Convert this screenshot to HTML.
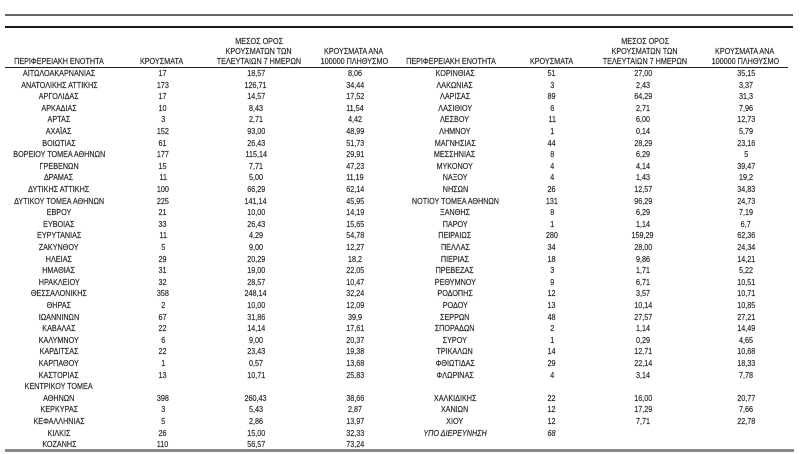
<!DOCTYPE html>
<html><head><meta charset="utf-8">
<style>
html,body{margin:0;padding:0;background:#fff;}
#w{position:relative;width:800px;height:454px;overflow:hidden;background:#fff;font-family:"Liberation Sans","Noto Sans CJK SC",sans-serif;font-size:8.2px;color:#1e1e1e;-webkit-text-stroke:0.2px #3a3a3a;}
.ln{position:absolute;}
.r{position:absolute;left:0;width:800px;height:12px;line-height:12px;white-space:nowrap;}
.r span{position:absolute;top:0;width:130px;text-align:center;}
.r span i{display:inline-block;font-style:normal;transform:scaleX(0.88);transform-origin:50% 50%;}
.r span.it i{font-style:italic;}
.a{left:-6px}.b{left:98px}.c{left:191px}.d{left:290px}
.e{left:390px}.f{left:487px}.g{left:578px}.h{left:681px}
.hc{left:194px}.hd{left:289px}.ha{left:-6px}.hb{left:97px}
.he{left:386px}.hf{left:487px}.hg{left:580px}.hh{left:680px}
</style></head><body><div id="w">
<div class="ln" style="left:5px;top:14px;width:788px;height:2px;background:#666;"></div>
<div class="ln" style="left:5px;top:26px;width:788px;height:2px;background:#1a1a1a;"></div>
<div class="ln" style="left:5px;top:67px;width:783px;height:1px;background:#222;"></div>
<div class="ln" style="left:5px;top:449px;width:789px;height:3px;background:#888;"></div>

<div class="r" style="top:36px"><span class="hc"><i>ΜΕΣΟΣ ΟΡΟΣ</i></span><span class="hg"><i>ΜΕΣΟΣ ΟΡΟΣ</i></span></div>
<div class="r" style="top:46px"><span class="hc"><i>ΚΡΟΥΣΜΑΤΩΝ ΤΩΝ</i></span><span class="hd"><i>ΚΡΟΥΣΜΑΤΑ ΑΝΑ</i></span><span class="hg"><i>ΚΡΟΥΣΜΑΤΩΝ ΤΩΝ</i></span><span class="hh"><i>ΚΡΟΥΣΜΑΤΑ ΑΝΑ</i></span></div>
<div class="r" style="top:56px"><span class="ha"><i>ΠΕΡΙΦΕΡΕΙΑΚΗ ΕΝΟΤΗΤΑ</i></span><span class="hb"><i>ΚΡΟΥΣΜΑΤΑ</i></span><span class="hc"><i>ΤΕΛΕΥΤΑΙΩΝ 7 ΗΜΕΡΩΝ</i></span><span class="hd"><i>100000 ΠΛΗΘΥΣΜΟ</i></span><span class="he"><i>ΠΕΡΙΦΕΡΕΙΑΚΗ ΕΝΟΤΗΤΑ</i></span><span class="hf"><i>ΚΡΟΥΣΜΑΤΑ</i></span><span class="hg"><i>ΤΕΛΕΥΤΑΙΩΝ 7 ΗΜΕΡΩΝ</i></span><span class="hh"><i>100000 ΠΛΗΘΥΣΜΟ</i></span></div>

<div class="r" style="top:68px"><span class="a"><i>ΑΙΤΩΛΟΑΚΑΡΝΑΝΙΑΣ</i></span><span class="b"><i>17</i></span><span class="c"><i>18,57</i></span><span class="d"><i>8,06</i></span><span class="e"><i>ΚΟΡΙΝΘΙΑΣ</i></span><span class="f"><i>51</i></span><span class="g"><i>27,00</i></span><span class="h"><i>35,15</i></span></div>
<div class="r" style="top:79.6px"><span class="a"><i>ΑΝΑΤΟΛΙΚΗΣ ΑΤΤΙΚΗΣ</i></span><span class="b"><i>173</i></span><span class="c"><i>126,71</i></span><span class="d"><i>34,44</i></span><span class="e"><i>ΛΑΚΩΝΙΑΣ</i></span><span class="f"><i>3</i></span><span class="g"><i>2,43</i></span><span class="h"><i>3,37</i></span></div>
<div class="r" style="top:91.2px"><span class="a"><i>ΑΡΓΟΛΙΔΑΣ</i></span><span class="b"><i>17</i></span><span class="c"><i>14,57</i></span><span class="d"><i>17,52</i></span><span class="e"><i>ΛΑΡΙΣΑΣ</i></span><span class="f"><i>89</i></span><span class="g"><i>64,29</i></span><span class="h"><i>31,3</i></span></div>
<div class="r" style="top:102.8px"><span class="a"><i>ΑΡΚΑΔΙΑΣ</i></span><span class="b"><i>10</i></span><span class="c"><i>8,43</i></span><span class="d"><i>11,54</i></span><span class="e"><i>ΛΑΣΙΘΙΟΥ</i></span><span class="f"><i>6</i></span><span class="g"><i>2,71</i></span><span class="h"><i>7,96</i></span></div>
<div class="r" style="top:114.4px"><span class="a"><i>ΑΡΤΑΣ</i></span><span class="b"><i>3</i></span><span class="c"><i>2,71</i></span><span class="d"><i>4,42</i></span><span class="e"><i>ΛΕΣΒΟΥ</i></span><span class="f"><i>11</i></span><span class="g"><i>6,00</i></span><span class="h"><i>12,73</i></span></div>
<div class="r" style="top:126px"><span class="a"><i>ΑΧΑΪΑΣ</i></span><span class="b"><i>152</i></span><span class="c"><i>93,00</i></span><span class="d"><i>48,99</i></span><span class="e"><i>ΛΗΜΝΟΥ</i></span><span class="f"><i>1</i></span><span class="g"><i>0,14</i></span><span class="h"><i>5,79</i></span></div>
<div class="r" style="top:137.6px"><span class="a"><i>ΒΟΙΩΤΙΑΣ</i></span><span class="b"><i>61</i></span><span class="c"><i>26,43</i></span><span class="d"><i>51,73</i></span><span class="e"><i>ΜΑΓΝΗΣΙΑΣ</i></span><span class="f"><i>44</i></span><span class="g"><i>28,29</i></span><span class="h"><i>23,16</i></span></div>
<div class="r" style="top:149.2px"><span class="a"><i>ΒΟΡΕΙΟΥ ΤΟΜΕΑ ΑΘΗΝΩΝ</i></span><span class="b"><i>177</i></span><span class="c"><i>115,14</i></span><span class="d"><i>29,91</i></span><span class="e"><i>ΜΕΣΣΗΝΙΑΣ</i></span><span class="f"><i>8</i></span><span class="g"><i>6,29</i></span><span class="h"><i>5</i></span></div>
<div class="r" style="top:160.8px"><span class="a"><i>ΓΡΕΒΕΝΩΝ</i></span><span class="b"><i>15</i></span><span class="c"><i>7,71</i></span><span class="d"><i>47,23</i></span><span class="e"><i>ΜΥΚΟΝΟΥ</i></span><span class="f"><i>4</i></span><span class="g"><i>4,14</i></span><span class="h"><i>39,47</i></span></div>
<div class="r" style="top:172.4px"><span class="a"><i>ΔΡΑΜΑΣ</i></span><span class="b"><i>11</i></span><span class="c"><i>5,00</i></span><span class="d"><i>11,19</i></span><span class="e"><i>ΝΑΞΟΥ</i></span><span class="f"><i>4</i></span><span class="g"><i>1,43</i></span><span class="h"><i>19,2</i></span></div>
<div class="r" style="top:184px"><span class="a"><i>ΔΥΤΙΚΗΣ ΑΤΤΙΚΗΣ</i></span><span class="b"><i>100</i></span><span class="c"><i>66,29</i></span><span class="d"><i>62,14</i></span><span class="e"><i>ΝΗΣΩΝ</i></span><span class="f"><i>26</i></span><span class="g"><i>12,57</i></span><span class="h"><i>34,83</i></span></div>
<div class="r" style="top:195.6px"><span class="a"><i>ΔΥΤΙΚΟΥ ΤΟΜΕΑ ΑΘΗΝΩΝ</i></span><span class="b"><i>225</i></span><span class="c"><i>141,14</i></span><span class="d"><i>45,95</i></span><span class="e"><i>ΝΟΤΙΟΥ ΤΟΜΕΑ ΑΘΗΝΩΝ</i></span><span class="f"><i>131</i></span><span class="g"><i>96,29</i></span><span class="h"><i>24,73</i></span></div>
<div class="r" style="top:207.2px"><span class="a"><i>ΕΒΡΟΥ</i></span><span class="b"><i>21</i></span><span class="c"><i>10,00</i></span><span class="d"><i>14,19</i></span><span class="e"><i>ΞΑΝΘΗΣ</i></span><span class="f"><i>8</i></span><span class="g"><i>6,29</i></span><span class="h"><i>7,19</i></span></div>
<div class="r" style="top:218.8px"><span class="a"><i>ΕΥΒΟΙΑΣ</i></span><span class="b"><i>33</i></span><span class="c"><i>26,43</i></span><span class="d"><i>15,65</i></span><span class="e"><i>ΠΑΡΟΥ</i></span><span class="f"><i>1</i></span><span class="g"><i>1,14</i></span><span class="h"><i>6,7</i></span></div>
<div class="r" style="top:230.4px"><span class="a"><i>ΕΥΡΥΤΑΝΙΑΣ</i></span><span class="b"><i>11</i></span><span class="c"><i>4,29</i></span><span class="d"><i>54,78</i></span><span class="e"><i>ΠΕΙΡΑΙΩΣ</i></span><span class="f"><i>280</i></span><span class="g"><i>159,29</i></span><span class="h"><i>62,36</i></span></div>
<div class="r" style="top:242px"><span class="a"><i>ΖΑΚΥΝΘΟΥ</i></span><span class="b"><i>5</i></span><span class="c"><i>9,00</i></span><span class="d"><i>12,27</i></span><span class="e"><i>ΠΕΛΛΑΣ</i></span><span class="f"><i>34</i></span><span class="g"><i>28,00</i></span><span class="h"><i>24,34</i></span></div>
<div class="r" style="top:253.6px"><span class="a"><i>ΗΛΕΙΑΣ</i></span><span class="b"><i>29</i></span><span class="c"><i>20,29</i></span><span class="d"><i>18,2</i></span><span class="e"><i>ΠΙΕΡΙΑΣ</i></span><span class="f"><i>18</i></span><span class="g"><i>9,86</i></span><span class="h"><i>14,21</i></span></div>
<div class="r" style="top:265.2px"><span class="a"><i>ΗΜΑΘΙΑΣ</i></span><span class="b"><i>31</i></span><span class="c"><i>19,00</i></span><span class="d"><i>22,05</i></span><span class="e"><i>ΠΡΕΒΕΖΑΣ</i></span><span class="f"><i>3</i></span><span class="g"><i>1,71</i></span><span class="h"><i>5,22</i></span></div>
<div class="r" style="top:276.8px"><span class="a"><i>ΗΡΑΚΛΕΙΟΥ</i></span><span class="b"><i>32</i></span><span class="c"><i>28,57</i></span><span class="d"><i>10,47</i></span><span class="e"><i>ΡΕΘΥΜΝΟΥ</i></span><span class="f"><i>9</i></span><span class="g"><i>6,71</i></span><span class="h"><i>10,51</i></span></div>
<div class="r" style="top:288.4px"><span class="a"><i>ΘΕΣΣΑΛΟΝΙΚΗΣ</i></span><span class="b"><i>358</i></span><span class="c"><i>248,14</i></span><span class="d"><i>32,24</i></span><span class="e"><i>ΡΟΔΟΠΗΣ</i></span><span class="f"><i>12</i></span><span class="g"><i>3,57</i></span><span class="h"><i>10,71</i></span></div>
<div class="r" style="top:300px"><span class="a"><i>ΘΗΡΑΣ</i></span><span class="b"><i>2</i></span><span class="c"><i>10,00</i></span><span class="d"><i>12,09</i></span><span class="e"><i>ΡΟΔΟΥ</i></span><span class="f"><i>13</i></span><span class="g"><i>10,14</i></span><span class="h"><i>10,85</i></span></div>
<div class="r" style="top:311.6px"><span class="a"><i>ΙΩΑΝΝΙΝΩΝ</i></span><span class="b"><i>67</i></span><span class="c"><i>31,86</i></span><span class="d"><i>39,9</i></span><span class="e"><i>ΣΕΡΡΩΝ</i></span><span class="f"><i>48</i></span><span class="g"><i>27,57</i></span><span class="h"><i>27,21</i></span></div>
<div class="r" style="top:323.2px"><span class="a"><i>ΚΑΒΑΛΑΣ</i></span><span class="b"><i>22</i></span><span class="c"><i>14,14</i></span><span class="d"><i>17,61</i></span><span class="e"><i>ΣΠΟΡΑΔΩΝ</i></span><span class="f"><i>2</i></span><span class="g"><i>1,14</i></span><span class="h"><i>14,49</i></span></div>
<div class="r" style="top:334.8px"><span class="a"><i>ΚΑΛΥΜΝΟΥ</i></span><span class="b"><i>6</i></span><span class="c"><i>9,00</i></span><span class="d"><i>20,37</i></span><span class="e"><i>ΣΥΡΟΥ</i></span><span class="f"><i>1</i></span><span class="g"><i>0,29</i></span><span class="h"><i>4,65</i></span></div>
<div class="r" style="top:346.4px"><span class="a"><i>ΚΑΡΔΙΤΣΑΣ</i></span><span class="b"><i>22</i></span><span class="c"><i>23,43</i></span><span class="d"><i>19,38</i></span><span class="e"><i>ΤΡΙΚΑΛΩΝ</i></span><span class="f"><i>14</i></span><span class="g"><i>12,71</i></span><span class="h"><i>10,68</i></span></div>
<div class="r" style="top:358px"><span class="a"><i>ΚΑΡΠΑΘΟΥ</i></span><span class="b"><i>1</i></span><span class="c"><i>0,57</i></span><span class="d"><i>13,68</i></span><span class="e"><i>ΦΘΙΩΤΙΔΑΣ</i></span><span class="f"><i>29</i></span><span class="g"><i>22,14</i></span><span class="h"><i>18,33</i></span></div>
<div class="r" style="top:369.6px"><span class="a"><i>ΚΑΣΤΟΡΙΑΣ</i></span><span class="b"><i>13</i></span><span class="c"><i>10,71</i></span><span class="d"><i>25,83</i></span><span class="e"><i>ΦΛΩΡΙΝΑΣ</i></span><span class="f"><i>4</i></span><span class="g"><i>3,14</i></span><span class="h"><i>7,78</i></span></div>
<div class="r" style="top:381.2px"><span class="a"><i>ΚΕΝΤΡΙΚΟΥ ΤΟΜΕΑ</i></span></div>
<div class="r" style="top:392.8px"><span class="a"><i>ΑΘΗΝΩΝ</i></span><span class="b"><i>398</i></span><span class="c"><i>260,43</i></span><span class="d"><i>38,66</i></span><span class="e"><i>ΧΑΛΚΙΔΙΚΗΣ</i></span><span class="f"><i>22</i></span><span class="g"><i>16,00</i></span><span class="h"><i>20,77</i></span></div>
<div class="r" style="top:404.4px"><span class="a"><i>ΚΕΡΚΥΡΑΣ</i></span><span class="b"><i>3</i></span><span class="c"><i>5,43</i></span><span class="d"><i>2,87</i></span><span class="e"><i>ΧΑΝΙΩΝ</i></span><span class="f"><i>12</i></span><span class="g"><i>17,29</i></span><span class="h"><i>7,66</i></span></div>
<div class="r" style="top:416px"><span class="a"><i>ΚΕΦΑΛΛΗΝΙΑΣ</i></span><span class="b"><i>5</i></span><span class="c"><i>2,86</i></span><span class="d"><i>13,97</i></span><span class="e"><i>ΧΙΟΥ</i></span><span class="f"><i>12</i></span><span class="g"><i>7,71</i></span><span class="h"><i>22,78</i></span></div>
<div class="r" style="top:427.6px"><span class="a"><i>ΚΙΛΚΙΣ</i></span><span class="b"><i>26</i></span><span class="c"><i>15,00</i></span><span class="d"><i>32,33</i></span><span class="e it"><i>ΥΠΟ ΔΙΕΡΕΥΝΗΣΗ</i></span><span class="f it"><i>68</i></span></div>
<div class="r" style="top:439.2px"><span class="a"><i>ΚΟΖΑΝΗΣ</i></span><span class="b"><i>110</i></span><span class="c"><i>56,57</i></span><span class="d"><i>73,24</i></span></div>
</div></body></html>
